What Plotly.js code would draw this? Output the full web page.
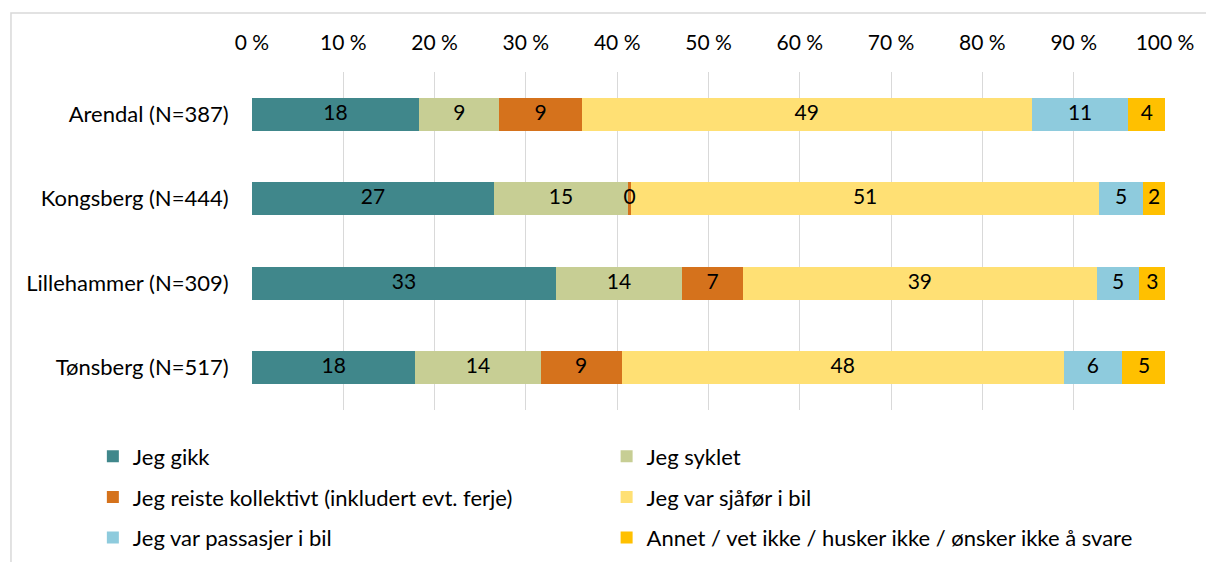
<!DOCTYPE html>
<html>
<head>
<meta charset="utf-8">
<script src="https://cdn.plot.ly/plotly-3.0.1.min.js"></script>
<style>
  html, body { margin: 0; padding: 0; background: #fff; }
  #chart { width: 1206px; height: 562px; }
</style>
</head>
<body>
<div id="chart"></div>
<script>
// Cities (top to bottom)
const cities = ['Arendal (N=387)', 'Kongsberg (N=444)', 'Lillehammer (N=309)', 'Tønsberg (N=517)'];

// Share in percent
const gikk      = [18.3, 26.5, 33.3, 17.9];
const syklet    = [8.8, 14.7, 13.8, 13.7];
const kollektiv = [9.0, 0.3, 6.7, 8.9];
const sjafor    = [49.3, 51.3, 38.7, 48.4];
const passasjer = [10.6, 4.8, 4.7, 6.4];
const annet     = [4.0, 2.4, 2.8, 4.8];

const seriesNames = [
    'Jeg gikk',
    'Jeg syklet',
    'Jeg reiste kollektivt (inkludert evt. ferje)',
    'Jeg var sjåfør i bil',
    'Jeg var passasjer i bil',
    'Annet / vet ikke / husker ikke / ønsker ikke å svare'
];
const seriesValues = [gikk, syklet, kollektiv, sjafor, passasjer, annet];
const colors = ['#40878B', '#C7CE94', '#D5721C', '#FFE074', '#8ECBDD', '#FFC000'];

const font = 'Lato, "Open Sans", sans-serif';

let traces = seriesValues.map((vals, i) => ({
    type: 'bar',
    orientation: 'h',
    name: seriesNames[i],
    y: cities,
    x: vals,
    marker: { color: colors[i], line: { width: 0 } },
    legend: i % 2 === 0 ? 'legend' : 'legend2',
    legendgroup: 'g' + i,
    hoverinfo: 'skip'
}));

// value labels on top of all bars (so the thin "0" segment is not covered)
let labelX = [], labelY = [], labelText = [];
let running = cities.map(() => 0);
seriesValues.forEach(vals => {
    vals.forEach((v, j) => {
        labelX.push(running[j] + v / 2);
        labelY.push(cities[j]);
        labelText.push(String(Math.round(v)));
        running[j] += v;
    });
});
traces.push({
    type: 'scatter',
    mode: 'text',
    x: labelX,
    y: labelY,
    text: labelText,
    textposition: 'middle center',
    textfont: { family: font, size: 21, color: '#000' },
    showlegend: false,
    hoverinfo: 'skip',
    cliponaxis: false
});

let legendBase = {
    orientation: 'v',
    traceorder: 'grouped',
    tracegroupgap: 9,
    xref: 'container',
    yref: 'container',
    yanchor: 'top',
    y: 0.225,
    xanchor: 'left',
    font: { family: font, size: 22, color: '#000' },
    bgcolor: 'rgba(0,0,0,0)'
};

let layout = {
    width: 1206,
    height: 562,
    margin: { l: 252, r: 41, t: 72, b: 152, autoexpand: false },
    barmode: 'stack',
    bargap: 0.61,
    paper_bgcolor: '#fff',
    plot_bgcolor: '#fff',
    font: { family: font, size: 21, color: '#000' },
    xaxis: {
        side: 'top',
        range: [0, 100],
        dtick: 10,
        ticksuffix: ' %',
        showgrid: true,
        gridcolor: '#D9D9D9',
        gridwidth: 1,
        zeroline: false,
        showline: false,
        ticks: '',
        ticklabelstandoff: 17,
        automargin: false,
        tickfont: { family: font, size: 21, color: '#000' },
        fixedrange: true
    },
    yaxis: {
        autorange: 'reversed',
        showgrid: false,
        zeroline: false,
        showline: false,
        ticks: 'outside',
        ticklen: 18,
        tickcolor: 'rgba(0,0,0,0)',
        automargin: false,
        tickfont: { family: font, size: 22, color: '#000' },
        fixedrange: true
    },
    legend: Object.assign({}, legendBase, { x: 0.077 }),
    legend2: Object.assign({}, legendBase, { x: 0.503 }),
    shapes: [{
        type: 'rect', xref: 'paper', yref: 'paper',
        x0: -0.264, x1: 1.2, y0: -0.6, y1: 1.1746,
        line: { color: '#D9D9D9', width: 1.5 },
        fillcolor: 'rgba(0,0,0,0)',
        layer: 'below'
    }]
};

Plotly.newPlot('chart', traces, layout, { displayModeBar: false, staticPlot: true });
</script>
</body>
</html>
